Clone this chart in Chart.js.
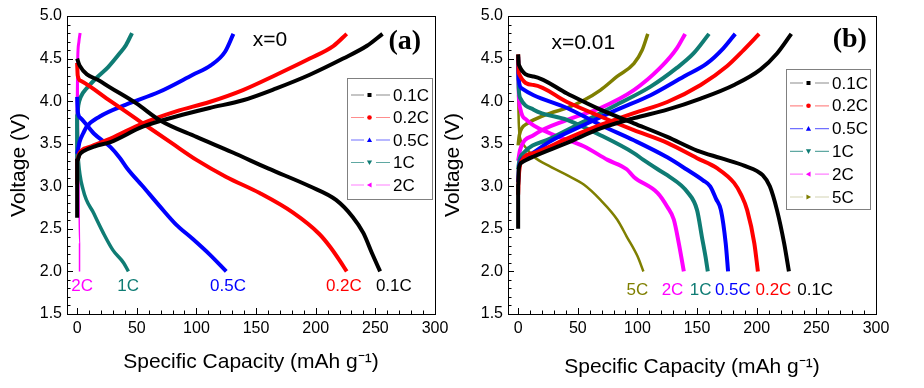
<!DOCTYPE html>
<html>
<head>
<meta charset="utf-8">
<script src="https://cdn.jsdelivr.net/npm/chart.js@4.4.0/dist/chart.umd.min.js"></script>
<style>
html,body{margin:0;padding:0;background:#fff;}
#wrap{position:relative;width:924px;height:388px;overflow:hidden;background:#fff;}
#cb{position:absolute;left:440px;top:0;}
#ca{position:absolute;left:0;top:0;}
</style>
</head>
<body>
<div id="wrap">
<canvas id="cb" width="484" height="388"></canvas>
<canvas id="ca" width="462" height="388"></canvas>
</div>
<script>
// ---------- tick labels ----------
const xTickValues = [0, 50, 100, 150, 200, 250, 300];
const yTickValues = [1.5, 2.0, 2.5, 3.0, 3.5, 4.0, 4.5, 5.0];

// ---------- rates ----------
const ratesA = ['0.1C', '0.2C', '0.5C', '1C', '2C'];
const ratesB = ['0.1C', '0.2C', '0.5C', '1C', '2C', '5C'];

// ---------- panel (a) x=0 : [capacity mAh/g, voltage V] ----------
const a01Charge = [[0,2.63],[0,3.0],[0,3.3],[2,3.37],[5,3.41],[15,3.47],[28,3.52],[55,3.70],[83,3.82],[111,3.92],[139,4.01],[167,4.15],[195,4.31],[223,4.50],[243,4.65],[256,4.79]];
const a01Discharge = [[0,4.50],[2,4.42],[20,4.23],[50,3.97],[70,3.77],[100,3.58],[130,3.40],[160,3.21],[195,3.00],[217,2.84],[231,2.64],[240,2.45],[247,2.22],[254,2.00]];
const a02Charge = [[0,3.02],[0,3.3],[2,3.39],[10,3.46],[28,3.56],[55,3.74],[83,3.88],[111,3.99],[139,4.13],[167,4.31],[195,4.50],[215,4.65],[226,4.79]];
const a02Discharge = [[0,4.45],[0.5,4.30],[3,4.24],[28,4.00],[55,3.74],[80,3.50],[100,3.31],[125,3.11],[153,2.92],[181,2.69],[203,2.44],[212,2.29],[220,2.13],[226,2.00]];
const a05Charge = [[0,3.38],[1,3.45],[2,3.52],[5,3.62],[8,3.70],[19,3.82],[41,3.96],[69,4.11],[97,4.31],[112,4.42],[124,4.58],[131,4.79]];
const a05Discharge = [[0,4.05],[0.5,3.88],[3,3.80],[14,3.62],[28,3.46],[36,3.33],[42,3.21],[55,3.00],[69,2.77],[83,2.55],[97,2.38],[111,2.20],[125,2.00]];
const a1Charge = [[0,3.30],[0,3.6],[0,3.82],[1,3.95],[3,4.05],[8,4.15],[16,4.27],[26,4.40],[35,4.55],[41,4.66],[46,4.80]];
const a1Discharge = [[0,3.80],[0.3,3.5],[1,3.31],[5,2.96],[14,2.68],[22,2.45],[30,2.25],[39,2.10],[43,2.00]];
const a2Charge = [[0,3.3],[0,4.0],[0.5,4.5],[1.5,4.7],[2.5,4.8]];
const a2Discharge = [[0.5,4.55],[1,3.8],[1.5,3.0],[2,2.33],[2,2.0]];

// ---------- panel (b) x=0.01 ----------
const b01Charge = [[0,2.5],[0,3.0],[0.5,3.2],[3,3.28],[13,3.35],[41,3.51],[69,3.68],[97,3.80],[125,3.90],[153,4.03],[181,4.19],[203,4.37],[217,4.56],[229,4.79]];
const b01Discharge = [[0,4.55],[0.5,4.43],[13,4.29],[41,4.09],[69,3.90],[97,3.74],[125,3.58],[150,3.42],[170,3.33],[190,3.24],[205,3.13],[211,3.00],[217,2.72],[223,2.33],[227,2.00]];
const b02Charge = [[0,2.9],[0.5,3.1],[3,3.3],[13,3.39],[41,3.56],[69,3.72],[97,3.86],[125,3.99],[153,4.19],[175,4.41],[189,4.60],[202,4.79]];
const b02Discharge = [[0,4.55],[0.5,4.33],[13,4.19],[41,3.99],[69,3.82],[97,3.66],[125,3.51],[150,3.33],[167,3.21],[181,3.04],[187,2.90],[192,2.72],[198,2.33],[201,2.00]];
const b05Charge = [[0,3.05],[1,3.25],[7,3.35],[27,3.53],[55,3.72],[83,3.90],[111,4.07],[139,4.29],[158,4.44],[172,4.62],[182,4.79]];
const b05Discharge = [[0,4.52],[0.5,4.25],[3,4.15],[13,4.07],[41,3.92],[69,3.72],[97,3.54],[125,3.34],[141,3.20],[155,3.07],[161,3.00],[166,2.85],[170,2.72],[174,2.33],[176,2.00]];
const b1Charge = [[0,3.2],[1,3.3],[4.5,3.39],[27,3.56],[55,3.76],[83,3.96],[111,4.17],[133,4.39],[147,4.56],[160,4.79]];
const b1Discharge = [[0,4.48],[0.5,4.15],[2,4.03],[13,3.90],[41,3.78],[69,3.60],[97,3.39],[105,3.31],[117,3.20],[125,3.13],[142,2.93],[150,2.72],[154,2.41],[157,2.18],[159,2.00]];
const b2Charge = [[0,3.3],[1.7,3.43],[13,3.60],[41,3.78],[69,3.92],[97,4.13],[119,4.39],[133,4.62],[140,4.79]];
const b2Discharge = [[0,4.42],[0.5,4.10],[2,3.90],[7,3.78],[27,3.62],[55,3.47],[75,3.31],[91,3.20],[97,3.11],[117,2.92],[125,2.76],[130.5,2.61],[134.7,2.33],[138.9,2.00]];
const b5Charge = [[0,3.48],[1,3.60],[3,3.68],[8,3.74],[13,3.78],[27,3.86],[41,3.92],[55,4.01],[69,4.13],[83,4.29],[97,4.44],[104,4.60],[108.7,4.79]];
const b5Discharge = [[0,4.07],[0.5,3.75],[2,3.55],[5,3.48],[13,3.35],[27,3.23],[41,3.13],[55,3.02],[69,2.84],[83,2.61],[91,2.41],[100,2.18],[105,2.00]];

// ---------- in-plot end labels (text, capacity, voltage) ----------
const labelsA = [['2C',4.2,1.82],['1C',42.7,1.82],['0.5C',126.5,1.82],['0.2C',223.6,1.82],['0.1C',265.5,1.82]];
const labelsB = [['5C',100,1.78],['2C',129.4,1.78],['1C',153,1.78],['0.5C',180,1.78],['0.2C',214,1.78],['0.1C',249,1.78]];

// ---------- styles ----------
const rateColor = {'0.1C':'#000000','0.2C':'#ff0000','0.5C':'#0000ff','1C':'#0f7c74','2C':'#ff00ff','5C':'#7f7f00'};
const rateLegendLine = {'0.1C':'#8c8c8c','0.2C':'#ff8c8c','0.5C':'#7070ff','1C':'#5fa8a2','2C':'#ff80ff','5C':'#d4d4b4'};
const rateMarker = {'0.1C':'square','0.2C':'circle','0.5C':'up','1C':'down','2C':'left','5C':'right'};

Chart.defaults.font.family = "'Liberation Sans', Arial, Helvetica, sans-serif";
Chart.defaults.color = '#000';

function ds(label, pts, width) {
  return {
    label: label,
    data: pts.map(p => ({x: p[0], y: p[1]})),
    borderColor: rateColor[label],
    backgroundColor: rateColor[label],
    borderWidth: width,
    pointRadius: 0,
    cubicInterpolationMode: 'monotone',
    fill: false
  };
}

function drawMarker(ctx, type, x, y, color) {
  ctx.save();
  ctx.fillStyle = color;
  ctx.beginPath();
  const s = 2.6;
  if (type === 'square') { ctx.rect(x - 2, y - 2, 4, 4); }
  else if (type === 'circle') { ctx.arc(x, y, 2.3, 0, Math.PI * 2); }
  else if (type === 'up') { ctx.moveTo(x, y - s); ctx.lineTo(x + s, y + s * 0.8); ctx.lineTo(x - s, y + s * 0.8); }
  else if (type === 'down') { ctx.moveTo(x, y + s); ctx.lineTo(x + s, y - s * 0.8); ctx.lineTo(x - s, y - s * 0.8); }
  else if (type === 'left') { ctx.moveTo(x - s, y); ctx.lineTo(x + s * 0.8, y - s); ctx.lineTo(x + s * 0.8, y + s); }
  else if (type === 'right') { ctx.moveTo(x + s, y); ctx.lineTo(x - s * 0.8, y - s); ctx.lineTo(x - s * 0.8, y + s); }
  ctx.closePath();
  ctx.fill();
  ctx.restore();
}

const decorPlugin = {
  id: 'decor',
  afterDraw(chart, args, o) {
    const ctx = chart.ctx;
    const ca = chart.chartArea;
    const xs = chart.scales.x, ys = chart.scales.y;
    ctx.save();
    // frame
    ctx.strokeStyle = '#000';
    ctx.lineWidth = 1;
    ctx.strokeRect(Math.round(ca.left) + 0.5, Math.round(ca.top) + 0.5, Math.round(ca.right - ca.left), Math.round(ca.bottom - ca.top));
    // inward ticks
    ctx.beginPath();
    for (let v = 0; v <= 300 + 1e-6; v += 10) {
      const px = Math.round(xs.getPixelForValue(v)) + 0.5;
      const major = Math.abs(v % 50) < 1e-6;
      ctx.moveTo(px, ca.bottom);
      ctx.lineTo(px, ca.bottom - (major ? 6 : 3.5));
    }
    for (let i = 15; i <= 50; i++) {
      const v = i / 10;
      const py = Math.round(ys.getPixelForValue(v)) + 0.5;
      const major = i % 5 === 0;
      ctx.moveTo(ca.left, py);
      ctx.lineTo(ca.left + (major ? 6 : 3.5), py);
    }
    ctx.stroke();
    // end labels
    ctx.font = "17px 'Liberation Sans', Arial, sans-serif";
    ctx.textAlign = 'center';
    ctx.textBaseline = 'middle';
    o.endLabels.forEach(l => {
      ctx.fillStyle = rateColor[l[0]];
      ctx.fillText(l[0], xs.getPixelForValue(l[1]), ys.getPixelForValue(l[2]));
    });
    // composition label and panel tag
    ctx.fillStyle = '#000';
    ctx.font = "21px 'Liberation Sans', Arial, sans-serif";
    ctx.fillText(o.comp[0], xs.getPixelForValue(o.comp[1]), ys.getPixelForValue(o.comp[2]));
    ctx.font = "bold 28px 'Liberation Serif', 'Times New Roman', serif";
    ctx.fillText(o.tag[0], xs.getPixelForValue(o.tag[1]), ys.getPixelForValue(o.tag[2]));
    // legend
    const L = o.legend;
    const bx = ca.left + L.left, by = ca.top + L.top;
    ctx.strokeStyle = '#808080';
    ctx.lineWidth = 1;
    ctx.strokeRect(Math.round(bx) + 0.5, Math.round(by) + 0.5, L.width, L.height);
    ctx.font = "17px 'Liberation Sans', Arial, sans-serif";
    ctx.textAlign = 'left';
    L.rates.forEach((r, i) => {
      const y = by + L.rowTop + i * L.rowStep;
      ctx.strokeStyle = rateLegendLine[r];
      ctx.lineWidth = 1.2;
      ctx.beginPath();
      ctx.moveTo(bx + 4, y); ctx.lineTo(bx + 17, y);
      ctx.moveTo(bx + 29, y); ctx.lineTo(bx + 43, y);
      ctx.stroke();
      drawMarker(ctx, rateMarker[r], bx + 22.5, y, rateColor[r]);
      ctx.fillStyle = '#000';
      ctx.fillText(r, bx + 46, y + 1);
    });
    ctx.restore();
  }
};

function scalesCfg(yWidth, titleBottom, titleTop) {
  return {
    x: {
      type: 'linear', min: -8.5, max: 300,
      afterBuildTicks: s => { s.ticks = xTickValues.map(v => ({value: v})); },
      ticks: {font: {size: 16}, color: '#000', padding: 5, maxRotation: 0, autoSkip: false, callback: v => String(v)},
      grid: {display: false, drawTicks: false},
      border: {display: false},
      title: {display: true, text: 'Specific Capacity (mAh g\u207B\u00B9)', font: {size: 21}, color: '#000', padding: {top: 0, bottom: titleBottom}},
      afterFit: s => { s.height = 74; }
    },
    y: {
      type: 'linear', min: 1.5, max: 5.0,
      afterBuildTicks: s => { s.ticks = yTickValues.map(v => ({value: v})); },
      ticks: {font: {size: 16}, color: '#000', padding: 5, autoSkip: false, callback: v => Number(v).toFixed(1)},
      grid: {display: false, drawTicks: false},
      border: {display: false},
      title: {display: true, text: 'Voltage (V)', font: {size: 21}, color: '#000', padding: {top: titleTop, bottom: 0}},
      afterFit: s => { s.width = yWidth; }
    }
  };
}

const datasetsA = [
  ds('0.1C', a01Charge, 4), ds('0.1C', a01Discharge, 4),
  ds('0.2C', a02Charge, 4), ds('0.2C', a02Discharge, 4),
  ds('0.5C', a05Charge, 4), ds('0.5C', a05Discharge, 4),
  ds('1C', a1Charge, 4), ds('1C', a1Discharge, 3.5),
  ds('2C', a2Charge, 3), ds('2C', a2Discharge, 1.5)
];
const datasetsB = [
  ds('0.1C', b01Charge, 4), ds('0.1C', b01Discharge, 4),
  ds('0.2C', b02Charge, 4), ds('0.2C', b02Discharge, 4),
  ds('0.5C', b05Charge, 4), ds('0.5C', b05Discharge, 4),
  ds('1C', b1Charge, 4), ds('1C', b1Discharge, 4),
  ds('2C', b2Charge, 4), ds('2C', b2Discharge, 4),
  ds('5C', b5Charge, 3.5), ds('5C', b5Discharge, 2.5)
];

new Chart(document.getElementById('ca'), {
  type: 'line',
  data: {datasets: datasetsA},
  options: {
    responsive: false, animation: false, devicePixelRatio: 1,
    layout: {padding: {left: 0, top: 16, right: 27, bottom: 0}},
    scales: scalesCfg(67, 13, 7),
    plugins: {
      legend: {display: false}, tooltip: {enabled: false},
      decor: {
        endLabels: labelsA,
        comp: ['x=0', 161.6, 4.72],
        tag: ['(a)', 274.7, 4.70],
        legend: {left: 280, top: 62, width: 85, height: 121, rowTop: 17, rowStep: 22.5, rates: ratesA}
      }
    }
  },
  plugins: [decorPlugin]
});

new Chart(document.getElementById('cb'), {
  type: 'line',
  data: {datasets: datasetsB},
  options: {
    responsive: false, animation: false, devicePixelRatio: 1,
    layout: {padding: {left: 0, top: 16, right: 48, bottom: 0}},
    scales: scalesCfg(68, 8, 1),
    plugins: {
      legend: {display: false}, tooltip: {enabled: false},
      decor: {
        endLabels: labelsB,
        comp: ['x=0.01', 54.6, 4.68],
        tag: ['(b)', 278, 4.72],
        legend: {left: 278, top: 53, width: 84, height: 140, rowTop: 14, rowStep: 22.8, rates: ratesB}
      }
    }
  },
  plugins: [decorPlugin]
});
</script>
</body>
</html>
